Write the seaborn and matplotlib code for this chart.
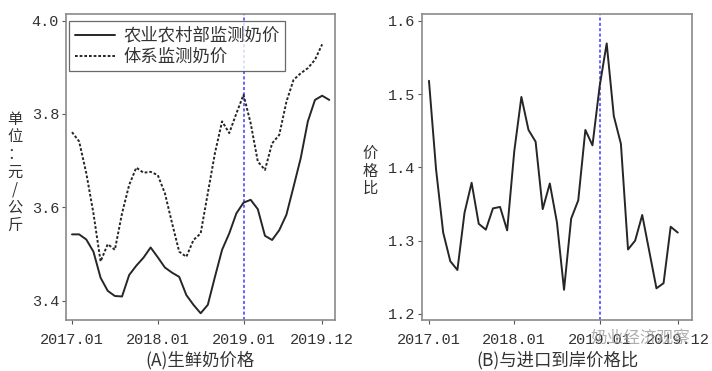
import matplotlib
matplotlib.use("Agg")
import matplotlib.pyplot as plt
import seaborn as sns
import pandas as pd
import numpy as np
from matplotlib.lines import Line2D

# ---------------- data ----------------
ministry_price = [3.542, 3.542, 3.531, 3.505, 3.449, 3.421, 3.410, 3.409, 3.455, 3.475,
                  3.492, 3.514, 3.493, 3.471, 3.460, 3.451, 3.412, 3.391, 3.373, 3.391,
                  3.451, 3.509, 3.544, 3.587, 3.610, 3.616, 3.596, 3.539, 3.530, 3.551,
                  3.584, 3.644, 3.705, 3.784, 3.830, 3.839, 3.830]
system_price = [3.761, 3.741, 3.673, 3.587, 3.484, 3.521, 3.509, 3.587, 3.648, 3.685,
                3.674, 3.676, 3.669, 3.630, 3.566, 3.505, 3.494, 3.530, 3.544, 3.630,
                3.716, 3.784, 3.759, 3.801, 3.841, 3.780, 3.698, 3.680, 3.737, 3.755,
                3.826, 3.873, 3.887, 3.898, 3.916, 3.949]
price_ratio = [1.518, 1.397, 1.311, 1.272, 1.260, 1.338, 1.379, 1.323, 1.315, 1.344,
               1.346, 1.314, 1.422, 1.496, 1.451, 1.435, 1.343, 1.378, 1.325, 1.233,
               1.330, 1.355, 1.451, 1.430, 1.510, 1.569, 1.470, 1.432, 1.288, 1.300,
               1.335, 1.285, 1.235, 1.242, 1.319, 1.311]
tick_labels = ["2017.01", "2018.01", "2019.01", "2019.12"]
tick_months = [0, 12, 24, 35]
policy_month = 24
legend_labels = ["农业农村部监测奶价", "体系监测奶价"]

# ---------------- style ----------------
sns.set_theme(style="white")
cjk = ["Noto Sans CJK SC", "DejaVu Sans"]
mono = ["Liberation Mono", "DejaVu Sans Mono"]
plt.rcParams["font.family"] = cjk

frame_col = "#8a8a8a"
text_col = "#333333"
line_col = "#262626"
dot_dash = (0, (1.4, 1.0))

df_a = pd.concat([
    pd.DataFrame({"month": np.arange(len(ministry_price)), "price": ministry_price,
                  "series": legend_labels[0]}),
    pd.DataFrame({"month": np.arange(len(system_price)), "price": system_price,
                  "series": legend_labels[1]}),
])
df_b = pd.DataFrame({"month": np.arange(len(price_ratio)), "ratio": price_ratio})

fig = plt.figure(figsize=(7.12, 3.71), dpi=100)
ax1 = fig.add_axes([66 / 712, 51 / 371, 269 / 712, 306 / 371])
ax2 = fig.add_axes([422 / 712, 51 / 371, 270 / 712, 306 / 371])

sns.lineplot(data=df_a, x="month", y="price", hue="series", style="series",
             palette=[line_col, line_col], dashes=[(None, None), (1.4, 1.0)],
             linewidth=1.4, ax=ax1, legend=False)
sns.lineplot(data=df_b, x="month", y="ratio", color=line_col, linewidth=1.4, ax=ax2)

for ax in (ax1, ax2):
    ax.axvline(policy_month, color="#3c3cff", linestyle=(0, (2, 1.5)), linewidth=1.1, zorder=1)
    ax.set_xticks(tick_months)
    ax.set_xticklabels(tick_labels, fontfamily=mono, fontsize=11, color=text_col)
    for s in ax.spines.values():
        s.set_color(frame_col)
        s.set_linewidth(1.2)
    ax.tick_params(axis="x", direction="out", length=3, width=0.8, color="#555555",
                   bottom=True, pad=6)
    ax.tick_params(axis="y", direction="out", length=3, width=0.8, color="#555555",
                   left=True, pad=2)
    ax.set_xlabel("")
    ax.set_ylabel("")

ax1.set_xlim(-0.84, 36.8)
ax1.set_ylim(3.3586, 4.014)
ax1.set_yticks([3.4, 3.6, 3.8, 4.0])
ax1.set_yticklabels(["3.4", "3.6", "3.8", "4.0"], fontfamily=mono, fontsize=11, color=text_col)

ax2.set_xlim(-0.98, 37.0)
ax2.set_ylim(1.1918, 1.6091)
ax2.set_yticks([1.2, 1.3, 1.4, 1.5, 1.6])
ax2.set_yticklabels(["1.2", "1.3", "1.4", "1.5", "1.6"], fontfamily=mono, fontsize=11, color=text_col)

# legend
handles = [Line2D([], [], color=line_col, linewidth=1.4),
           Line2D([], [], color=line_col, linewidth=1.4, linestyle=dot_dash)]
leg = ax1.legend(handles, legend_labels, loc="upper left", bbox_to_anchor=(0.0, 0.987),
                 prop={"family": cjk, "size": 12.5}, frameon=True, fancybox=False,
                 edgecolor="#444444", handlelength=2.3, handletextpad=0.5,
                 borderpad=0.3, labelspacing=0.2, borderaxespad=0.2)
leg.get_frame().set_linewidth(0.9)
for t in leg.get_texts():
    t.set_color(text_col)

# vertical y labels
fig.text(15 / 712, 1 - 172 / 371, "\n".join(["单", "位", "：", "元", "/", "公", "斤"]),
         ha="center", va="center", fontsize=11, linespacing=1.05, color=text_col,
         family=cjk)
fig.text(370 / 712, 1 - 171 / 371, "\n".join(["价", "格", "比"]),
         ha="center", va="center", fontsize=11, linespacing=1.05, color=text_col,
         family=cjk)

# panel captions
fig.text(200 / 712, 1 - 360 / 371, "(A)生鲜奶价格", ha="center", va="center",
         fontsize=12.5, color=text_col, family=cjk)
fig.text(557 / 712, 1 - 360 / 371, "(B)与进口到岸价格比", ha="center", va="center",
         fontsize=12.5, color=text_col, family=cjk)

# watermark
fig.text(640 / 712, 1 - 338 / 371, "奶业经济观察", ha="center", va="center",
         fontsize=12, color="#a0a0a0", alpha=0.85, family=cjk)

fig.savefig("out.png", dpi=100)
